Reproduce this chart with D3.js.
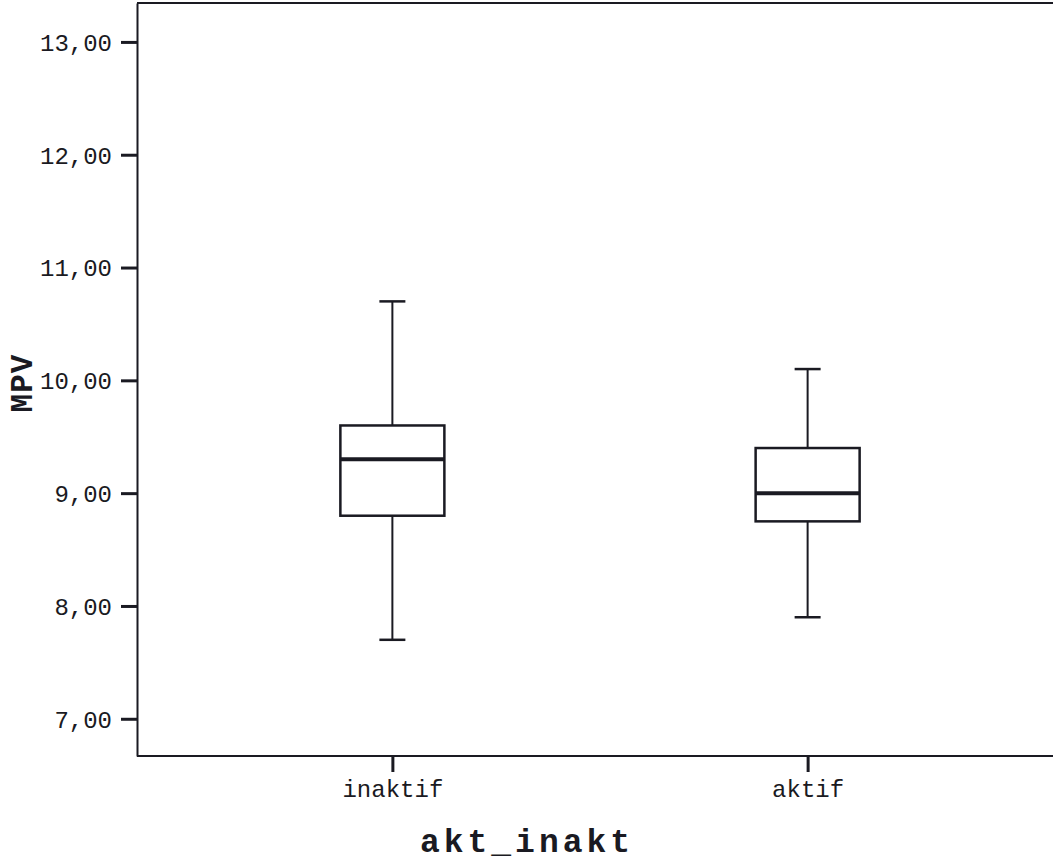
<!DOCTYPE html>
<html>
<head>
<meta charset="utf-8">
<title>MPV by akt_inakt</title>
<script src="https://cdn.jsdelivr.net/npm/d3@7"></script>
<style>
  body { margin: 0; background: #fff; }
  .tick text { font-family: "Liberation Mono", "Courier New", monospace; fill: #1a1a22; }
</style>
</head>
<body>
<script>
// box plot data
var groups = ["inaktif", "aktif"];
var whiskerLow  = [7.7, 7.9];
var q1          = [8.8, 8.75];
var medians     = [9.3, 9.0];
var q3          = [9.6, 9.4];
var whiskerHigh = [10.7, 10.1];
var yTicks = [7, 8, 9, 10, 11, 12, 13];

var W = 1053, H = 868;
var ink = "#1a1a22";

var svg = d3.select("body").append("svg")
  .attr("width", W).attr("height", H);

var x = d3.scalePoint().domain(groups).range([137, 1063]).padding(0.615);
var y = d3.scaleLinear().domain([6.67, 13.345]).range([756, 3]);

var fmt = function(d) { return d3.format(".2f")(d).replace(".", ","); };

// frame: top line + axes
svg.append("line")
  .attr("x1", 137).attr("x2", W).attr("y1", 3).attr("y2", 3)
  .attr("stroke", ink).attr("stroke-width", 2);

var yAxis = svg.append("g")
  .attr("transform", "translate(137,0)")
  .call(d3.axisLeft(y).tickValues(yTicks).tickFormat(fmt)
    .tickSizeInner(16).tickSizeOuter(0).tickPadding(9));
var xAxis = svg.append("g")
  .attr("transform", "translate(0,756)")
  .call(d3.axisBottom(x).tickSizeInner(16).tickSizeOuter(0).tickPadding(8));

[yAxis, xAxis].forEach(function(g) {
  g.select(".domain").attr("stroke", ink).attr("stroke-width", 2);
  g.selectAll(".tick line").attr("stroke", ink).attr("stroke-width", 3);
  g.selectAll(".tick text").attr("font-size", 24);
});
yAxis.selectAll(".tick text").attr("dy", "0.35em");
xAxis.select(".domain").attr("d", "M137,0H" + W);

// boxes
var boxW = 104, capW = 26;
var data = groups.map(function(g, i) {
  return { g: g, lo: whiskerLow[i], q1: q1[i], med: medians[i], q3: q3[i], hi: whiskerHigh[i] };
});

var box = svg.selectAll(".box").data(data).enter().append("g").attr("class", "box");

box.append("line")
  .attr("x1", d => x(d.g)).attr("x2", d => x(d.g))
  .attr("y1", d => y(d.hi)).attr("y2", d => y(d.q3))
  .attr("stroke", ink).attr("stroke-width", 2);
box.append("line")
  .attr("x1", d => x(d.g)).attr("x2", d => x(d.g))
  .attr("y1", d => y(d.q1)).attr("y2", d => y(d.lo))
  .attr("stroke", ink).attr("stroke-width", 2);
box.selectAll(".cap").data(d => [[d.g, d.hi], [d.g, d.lo]]).enter().append("line")
  .attr("x1", d => x(d[0]) - capW / 2).attr("x2", d => x(d[0]) + capW / 2)
  .attr("y1", d => y(d[1])).attr("y2", d => y(d[1]))
  .attr("stroke", ink).attr("stroke-width", 2.5);
box.append("rect")
  .attr("x", d => x(d.g) - boxW / 2).attr("width", boxW)
  .attr("y", d => y(d.q3)).attr("height", d => y(d.q1) - y(d.q3))
  .attr("fill", "#fff").attr("stroke", ink).attr("stroke-width", 2.5);
box.append("line")
  .attr("x1", d => x(d.g) - boxW / 2).attr("x2", d => x(d.g) + boxW / 2)
  .attr("y1", d => y(d.med)).attr("y2", d => y(d.med))
  .attr("stroke", ink).attr("stroke-width", 4);

// axis titles
svg.append("text")
  .attr("x", 527).attr("y", 852)
  .attr("text-anchor", "middle")
  .attr("font-family", "'Liberation Mono', 'Courier New', monospace")
  .attr("font-weight", "bold").attr("font-size", 33).attr("letter-spacing", 4)
  .attr("fill", ink)
  .text("akt_inakt");

svg.append("text")
  .attr("transform", "translate(32,383) rotate(-90)")
  .attr("text-anchor", "middle")
  .attr("font-family", "'Liberation Mono', 'Courier New', monospace")
  .attr("font-weight", "bold").attr("font-size", 31).attr("letter-spacing", 1)
  .attr("fill", ink)
  .text("MPV");
</script>
</body>
</html>
